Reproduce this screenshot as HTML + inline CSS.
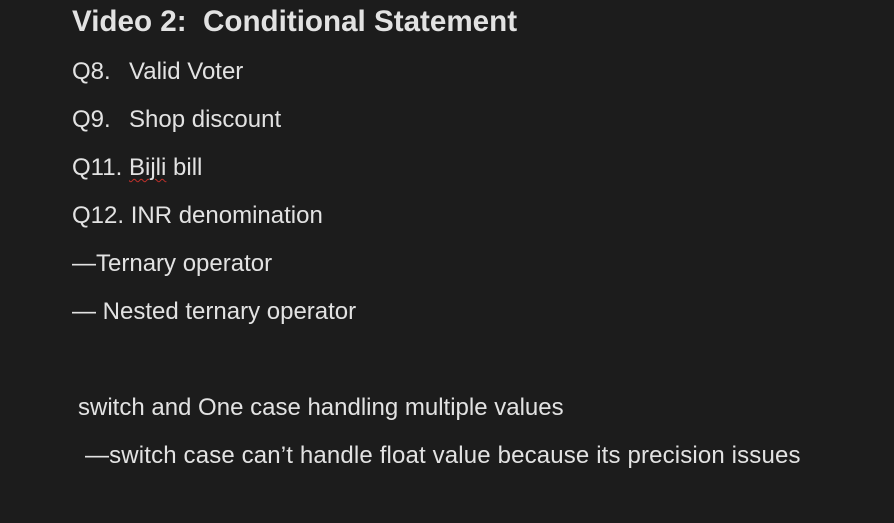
<!DOCTYPE html>
<html><head><meta charset="utf-8"><style>
html,body{margin:0;padding:0}
body{width:894px;height:523px;background:#1c1c1c;overflow:hidden;position:relative;font-family:"Liberation Sans",Arial,sans-serif;color:#e2e2e2}
.t{position:absolute;white-space:pre;font-size:24px;line-height:24px}
.h{font-weight:bold;font-size:29.6px;line-height:29px}
.sq{text-decoration:underline wavy #c0302a;text-decoration-thickness:1px;text-underline-offset:3px}
</style></head><body>
<div class="t h" style="left:72px;top:7px">Video 2:  Conditional Statement</div>
<div class="t" style="left:72px;top:60px">Q8.</div><div class="t" style="left:129px;top:60px">Valid Voter</div>
<div class="t" style="left:72px;top:108px">Q9.</div><div class="t" style="left:129px;top:108px">Shop discount</div>
<div class="t" style="left:72px;top:156px">Q11.</div><div class="t" style="left:129px;top:156px"><span class="sq">Bijli</span> bill</div>
<div class="t" style="left:72px;top:204px">Q12. INR denomination</div>
<div class="t" style="left:72px;top:252px">—Ternary operator</div>
<div class="t" style="left:72px;top:300px">— Nested ternary operator</div>
<div class="t" style="left:78px;top:396px">switch and One case handling multiple values</div>
<div class="t" style="left:85px;top:444px;letter-spacing:0.15px">—switch case can’t handle float value because its precision issues</div>
</body></html>
